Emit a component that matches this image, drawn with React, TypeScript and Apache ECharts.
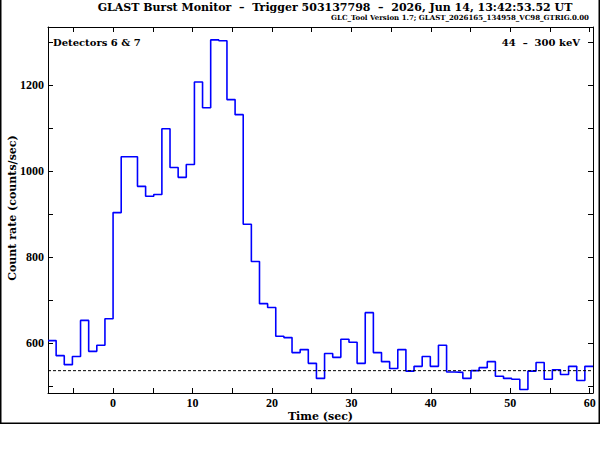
import React, { useEffect, useRef } from "react";
import * as echarts from "echarts";

// ---- data ----
const BIN_WIDTH = 1.024; // s
const T_START = -8.192; // s, left edge of first bin
const RATES = [
  606, 571, 550, 569, 653, 581, 595, 657,
  904, 1034, 1034, 965, 942, 946, 1099, 1009, 986, 1016,
  1208, 1148, 1306, 1304, 1167, 1132, 877, 790, 692, 683,
  616, 613, 578, 585, 553, 518, 576, 567, 609, 602,
  553, 671, 578, 557, 541, 585, 535, 546, 569, 546,
  595, 533, 532, 518, 536, 543, 557, 523, 518, 516,
  492, 535, 555, 516, 538, 527, 546, 513, 546,
];
const BACKGROUND = 536;
const Y_MIN = 484;
const Y_MAX = 1336;
const X_TICKS = [-5, 0, 5, 10, 15, 20, 25, 30, 35, 40, 45, 50, 55, 60];
const X_LABELS = [0, 10, 20, 30, 40, 50, 60];
const Y_TICKS = [500, 600, 700, 800, 900, 1000, 1100, 1200, 1300];
const Y_LABELS = [600, 800, 1000, 1200];

const TITLE = "GLAST Burst Monitor  \u2013  Trigger 503137798  \u2013  2026, Jun 14, 13:42:53.52 UT";
const SUBTITLE = "GLC_Tool Version 1.7; GLAST_2026165_134958_VC98_GTRIG.0.00";
const LEFT_NOTE = "Detectors 6 & 7";
const RIGHT_NOTE = "44  \u2013  300 keV";
const X_NAME = "Time (sec)";
const Y_NAME = "Count rate (counts/sec)";

const FONT = '"Liberation Serif", "DejaVu Serif", serif';
const WIDE = '"DejaVu Serif", "Liberation Serif", serif';

export default function App() {
  const ref = useRef<HTMLDivElement>(null);
  useEffect(() => {
    if (!ref.current) return;
    const chart = echarts.init(ref.current, undefined, { renderer: "svg" });
    const edges = RATES.map((_, i) => T_START + i * BIN_WIDTH);
    const tEnd = T_START + RATES.length * BIN_WIDTH;
    const steps: number[][] = RATES.map((v, i) => [edges[i], v]);
    steps.push([tEnd, RATES[RATES.length - 1]]);

    const axisLine = { show: true, onZero: false, lineStyle: { color: "#000", width: 1 } };
    const tickStyle = { color: "#000", width: 1 };
    const label = {
      color: "#000",
      fontFamily: FONT,
      fontWeight: "bold",
      fontSize: 12,
      formatter: (v: number) => String(v),
    };

    const xBase = {
      type: "value",
      min: T_START,
      max: tEnd,
      axisLine,
      splitLine: { show: false },
      axisTick: { show: true, inside: true, length: 5, customValues: X_TICKS, lineStyle: tickStyle },
    };
    const yBase = {
      type: "value",
      min: Y_MIN,
      max: Y_MAX,
      axisLine,
      splitLine: { show: false },
      axisTick: { show: true, inside: true, length: 5, customValues: Y_TICKS, lineStyle: tickStyle },
    };

    chart.setOption({
      animation: false,
      backgroundColor: "#fff",
      grid: { left: 48, right: 7, top: 27, bottom: 57 },
      xAxis: [
        { ...xBase, position: "bottom", axisLabel: { ...label, customValues: X_LABELS, margin: 4 } },
        { ...xBase, position: "top", axisLabel: { show: false } },
      ],
      yAxis: [
        { ...yBase, position: "left", axisLabel: { ...label, customValues: Y_LABELS, margin: 4 } },
        { ...yBase, position: "right", axisLabel: { show: false } },
      ],
      series: [
        {
          type: "line",
          xAxisIndex: 0,
          yAxisIndex: 0,
          step: "end",
          data: steps,
          symbol: "none",
          lineStyle: { color: "#0000ff", width: 1.6 },
        },
        {
          type: "line",
          xAxisIndex: 0,
          yAxisIndex: 0,
          data: [[T_START, BACKGROUND], [tEnd, BACKGROUND]],
          symbol: "none",
          lineStyle: { color: "#000", width: 1, type: [3, 2] },
        },
      ],
      graphic: [
        {
          type: "rect",
          shape: { x: 0.75, y: -2, width: 598.5, height: 425.3 },
          style: { fill: "none", stroke: "#000", lineWidth: 1.5 },
          silent: true,
        },
        {
          type: "text",
          x: 335,
          y: 7.5,
          style: { text: TITLE, font: `bold 11px ${WIDE}`, fill: "#000", align: "center", verticalAlign: "middle" },
        },
        {
          type: "text",
          x: 589,
          y: 17,
          style: { text: SUBTITLE, font: `bold 7px ${WIDE}`, fill: "#000", align: "right", verticalAlign: "middle" },
        },
        {
          type: "text",
          x: 53,
          y: 42,
          style: { text: LEFT_NOTE, font: `bold 10px ${WIDE}`, fill: "#000", align: "left", verticalAlign: "middle" },
        },
        {
          type: "text",
          x: 580,
          y: 42.5,
          style: { text: RIGHT_NOTE, font: `bold 10px ${WIDE}`, fill: "#000", align: "right", verticalAlign: "middle" },
        },
        {
          type: "text",
          x: 320.5,
          y: 416,
          style: { text: X_NAME, font: `bold 11px ${WIDE}`, fill: "#000", align: "center", verticalAlign: "middle" },
        },
        {
          type: "text",
          x: 12,
          y: 208,
          rotation: Math.PI / 2,
          style: { text: Y_NAME, font: `bold 11px ${WIDE}`, fill: "#000", align: "center", verticalAlign: "middle" },
        },
      ],
    });
    return () => chart.dispose();
  }, []);
  return (
    <div
      ref={ref}
      style={{ position: "absolute", left: 0, top: 0, width: 600, height: 450, background: "#fff" }}
    />
  );
}
